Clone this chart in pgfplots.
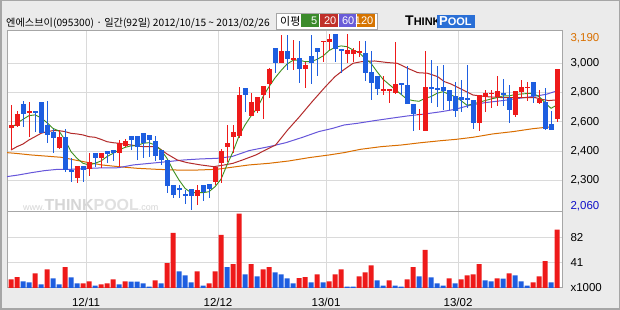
\documentclass[border=0pt]{standalone}
\usepackage{pgfplots}
\pgfplotsset{compat=1.18}
\usepackage{pgfplotstable}
\usepackage{fontspec}
\setmainfont{Liberation Sans}
\newfontfamily\kr{Noto Sans CJK KR}
\newfontfamily\num{Liberation Sans}

\definecolor{bgc}{HTML}{EBEBEB}
\definecolor{framec}{HTML}{A6A6A6}
\definecolor{gridc}{HTML}{DADADA}
\definecolor{upc}{HTML}{EE1A1A}
\definecolor{dnc}{HTML}{1E5EE0}
\definecolor{ma5c}{HTML}{3F8F1F}
\definecolor{ma20c}{HTML}{B32B2B}
\definecolor{ma60c}{HTML}{6656DA}
\definecolor{ma120c}{HTML}{D96E00}
\definecolor{lg5}{HTML}{3B8B2B}
\definecolor{lg20}{HTML}{C0302A}
\definecolor{lg60}{HTML}{6A5CD8}
\definecolor{lg120}{HTML}{D67400}
\definecolor{maxc}{HTML}{D97000}
\definecolor{minc}{HTML}{1010C8}
\definecolor{wmc}{HTML}{D6D6D6}
\definecolor{logob}{HTML}{2A6FD6}

% red (up) candles: index open high low close
\pgfplotstableread{
i o h l c
0 2555 2715 2407 2578
1 2571 2676 2562 2653
3 2658 2738 2498 2674
8 2419 2544 2412 2498
11 2213 2298 2179 2298
13 2275 2384 2232 2325
15 2355 2384 2282 2384
18 2389 2476 2289 2453
19 2437 2482 2425 2469
31 2095 2168 2031 2134
34 2191 2293 2168 2293
35 2321 2414 2179 2403
36 2430 2578 2327 2457
37 2498 2578 2384 2533
38 2503 2836 2487 2783
40 2640 2799 2640 2738
41 2674 2772 2663 2772
42 2783 2845 2619 2845
43 2859 2966 2761 2959
45 3000 3194 3000 3084
47 3027 3160 2954 3034
49 2959 3011 2834 2989
52 3146 3153 3011 3153
53 3148 3198 3091 3164
56 3062 3198 3000 3091
57 3062 3103 3007 3091
58 3073 3153 3046 3084
62 2813 2913 2781 2822
63 2816 2822 2726 2822
64 2795 3144 2790 2859
68 2647 2688 2544 2653
69 2539 3084 2539 2836
78 2594 2781 2539 2781
79 2772 2818 2669 2795
80 2792 2818 2697 2799
81 2772 2913 2708 2811
84 2647 2811 2631 2811
85 2804 2886 2761 2840
86 2833 2872 2745 2840
88 2731 2818 2720 2754
91 2619 2961 2601 2961
}\upT

% blue (down) candles
\pgfplotstableread{
i o h l c
2 2722 2742 2567 2653
4 2674 2674 2533 2665
5 2736 2736 2521 2521
6 2578 2742 2457 2510
7 2533 2549 2389 2492
9 2498 2549 2259 2270
10 2270 2350 2191 2259
12 2298 2298 2191 2270
14 2384 2384 2289 2355
16 2400 2400 2321 2380
17 2407 2407 2334 2389
20 2503 2503 2407 2476
21 2503 2503 2339 2430
22 2521 2521 2355 2453
23 2508 2508 2357 2476
24 2469 2503 2334 2366
25 2407 2407 2305 2339
26 2339 2339 2111 2163
27 2168 2168 2077 2100
28 2145 2168 2077 2136
29 2104 2134 2038 2096
30 2138 2138 1997 2095
32 2168 2168 2061 2122
33 2175 2175 2077 2138
39 2831 2831 2669 2783
44 3103 3103 2932 3000
46 3084 3194 2954 3032
48 3034 3153 2863 2959
50 3050 3194 2856 3000
51 3103 3103 2916 3078
54 3198 3198 3007 3096
55 3100 3100 2932 3087
59 3073 3153 2881 2936
60 2941 3084 2749 2863
61 2913 2913 2781 2822
65 2868 2868 2781 2850
66 2852 2982 2720 2720
67 2722 2722 2539 2651
70 2836 3023 2726 2827
71 2829 2982 2704 2821
72 2836 2989 2681 2813
73 2818 2818 2681 2745
74 2777 2870 2635 2676
75 2772 2886 2669 2749
76 2763 2989 2692 2749
77 2749 2749 2549 2594
82 2797 2893 2710 2783
83 2761 2852 2594 2681
87 2872 2872 2731 2777
89 2738 2829 2544 2553
90 2585 2676 2544 2544
}\dnT

% volume (x1000), red bars
\pgfplotstableread{
i v
0 13.9
1 17.7
4 23.7
6 30.3
9 33.6
12 7.5
13 10.6
15 5.7
16 7.3
17 13.9
19 10.6
24 12.2
26 40.1
27 89.4
31 27
33 7.3
34 27
35 86.1
37 38.5
38 120.5
40 38.5
42 30.3
43 33.6
48 16.1
49 17.7
51 22.1
53 10.6
54 22.1
55 30.3
58 18.8
59 25.4
60 36.8
63 12.2
66 13.9
67 33.6
69 61.5
73 15.5
75 13.9
76 20.4
77 22.1
78 38.5
81 15.5
83 23.7
87 9
88 18.8
89 43.4
91 94.3
}\volUp

% volume (x1000), blue bars
\pgfplotstableread{
i v
2 10.6
3 9
5 5.7
7 15.5
8 5.7
10 17.1
11 7.3
14 4
18 5.7
20 10.4
21 10.2
22 7.3
23 2.4
25 7.3
28 27
29 20.4
30 9
32 4
36 33.6
39 22.1
41 18.8
44 25.4
45 22.1
46 15.5
47 7.6
50 9
52 9
56 2.4
57 2.4
61 12.2
62 4
64 4
65 2.4
68 18.8
70 17.1
71 7.3
72 4
74 7.3
79 12.2
80 10.6
82 15.3
84 20.4
85 10.6
86 4
90 9
}\volDn

\begin{document}
\begin{tikzpicture}[x=1pt,y=1pt]
\fill[bgc] (0,0) rectangle (620,310);
\draw[framec, line width=1.5pt] (0.75,0.75) rectangle (619.25,309.25);
\fill[white] (7,22) rectangle (562,279);

% watermark
\node[anchor=base west, inner sep=0pt, text=wmc] at (23,99)
  {\fontsize{9}{9}\selectfont www.\fontsize{16}{16}\selectfont\bfseries THINK\textcolor{wmc!75!white}{POOL}\mdseries\fontsize{9}{9}\selectfont .com};

% title
\node[anchor=base west, inner sep=0pt] at (6,283)
  {\kr\fontsize{10.2}{10.2}\selectfont 엔에스브이(095300) · 일간(92일) 2012/10/15 \string~ 2013/02/26};

% MA legend box
\draw[framec, fill=white, line width=0.8pt] (276,281) rectangle (377,297);
\node[anchor=base west, inner sep=0pt] at (280,284.5) {\kr\fontsize{11}{11}\selectfont 이평};
\fill[lg5] (301,282.5) rectangle (319,295.5);
\fill[lg20] (320,282.5) rectangle (338,295.5);
\fill[lg60] (339,282.5) rectangle (356,295.5);
\fill[lg120] (357,282.5) rectangle (374.5,295.5);
\node[anchor=base east, inner sep=0pt, text=white] at (317.5,285) {\num\fontsize{11}{11}\selectfont 5};
\node[anchor=base east, inner sep=0pt, text=white] at (336.5,285) {\num\fontsize{11}{11}\selectfont 20};
\node[anchor=base east, inner sep=0pt, text=white] at (354.5,285) {\num\fontsize{11}{11}\selectfont 60};
\node[anchor=base east, inner sep=0pt, text=white] at (373.5,285) {\num\fontsize{11}{11}\selectfont 120};

% logo
\node[anchor=base west, inner sep=0pt] at (405,284)
  {\num\bfseries\fontsize{14}{14}\selectfont T\fontsize{11}{11}\selectfont HINK};
\fill[logob] (437,282) rectangle (475,295);
\node[anchor=base west, inner sep=0pt, text=white] at (439,284)
  {\num\bfseries\fontsize{13}{13}\selectfont P\fontsize{11}{11}\selectfont OOL};

% ---------------- price panel ----------------
\begin{axis}[
  at={(7pt,98pt)}, anchor=south west,
  scale only axis, width=555pt, height=181pt,
  xmin=-0.667, xmax=91.833, ymin=1983, ymax=3221,
  axis line style={draw=framec, line width=1pt},
  xtick={12.5,34.5,52.5,74.5}, xticklabels={},
  ytick={2200,2400,2600,2800,3000},
  yticklabels={{2,300},{2,400},{2,600},{2,800},{3,000}},
  yticklabel pos=right,
  ymajorgrids, xmajorgrids,
  major grid style={draw=gridc, line width=1pt},
  major tick length=0pt,
  tick style={draw=none},
  tick label style={font=\num\fontsize{11.5}{12}\selectfont},
  yticklabel style={anchor=west, xshift=5pt},
  extra y ticks={3171,2020},
  extra y tick labels={{\color{maxc}3,190},{\color{minc}2,060}},
  extra y tick style={grid=none},
]
% moving averages
\addplot[ma120c, line width=1pt] coordinates {
(-0.67,2389)(0.8,2384)(3.4,2373)(5.6,2366)(8.4,2357)(10.6,2339)(12.9,2321)(15.1,2305)(17.9,2293)(21,2282)(24.3,2275)(27.7,2270)(31,2270)(34.3,2275)(36.8,2289)(39.7,2305)(43,2316)(46.3,2332)(49.7,2355)(53,2373)(55.5,2389)(58.3,2412)(61.7,2430)(65,2441)(68.3,2457)(71.7,2471)(74.2,2480)(77,2494)(80.3,2517)(83.7,2533)(87,2553)(90.3,2567)};
\addplot[ma60c, line width=1pt] coordinates {
(-0.67,2225)(1.2,2236)(3.4,2252)(5.6,2266)(7.8,2275)(10,2275)(12.3,2280)(14.6,2284)(16.8,2284)(17.9,2286)(20.4,2305)(23.2,2316)(26,2327)(28.8,2339)(31.6,2346)(34.3,2350)(36.8,2362)(39.7,2403)(43,2430)(45.8,2457)(48.6,2494)(51.3,2533)(53.6,2555)(55.5,2578)(57.8,2590)(60.6,2608)(63.3,2624)(66.1,2640)(68.9,2653)(71.7,2669)(74,2685)(76.4,2712)(79,2731)(81.9,2745)(84.8,2761)(87.6,2777)(89.2,2788)(90.6,2806)(91,2811)};
\addplot[ma20c, line width=1pt] coordinates {
(0,2407)(1,2430)(2,2448)(3,2476)(4,2498)(5,2521)(6,2533)(7,2539)(8,2539)(9,2533)(10,2521)(11,2517)(12,2510)(13,2498)(14,2494)(15,2480)(16,2464)(17,2457)(18,2453)(20,2441)(22,2430)(24.3,2430)(26,2380)(27.7,2339)(29.3,2321)(31.6,2305)(33.8,2293)(35.6,2305)(37,2316)(38.6,2339)(40.8,2373)(42.4,2407)(44.1,2441)(46.1,2544)(48,2631)(50.2,2738)(52.4,2840)(54,2909)(55.4,2954)(57,3000)(58.4,3011)(60.6,3016)(62.8,3005)(64.4,3000)(66.1,2966)(67.8,2936)(69.4,2932)(71.1,2909)(72.2,2875)(73.3,2859)(75.3,2818)(77,2783)(79.2,2772)(82,2765)(84.8,2765)(87.4,2765)(88.5,2754)(89.6,2745)(90.7,2749)(91,2749)};
\addplot[ma5c, line width=0.9pt] coordinates {
(0,2555)(1,2590)(2,2617)(3,2642)(4,2647)(5,2628)(6,2594)(7,2555)(8,2537)(9,2476)(10,2396)(11,2350)(12,2316)(13,2305)(14,2316)(15,2332)(16,2362)(17,2384)(18,2407)(19,2425)(20,2435)(21,2437)(22,2453)(23,2457)(24,2441)(25,2407)(26,2350)(27,2270)(28,2202)(29,2145)(30,2115)(31,2115)(32,2115)(33,2122)(34,2156)(35,2207)(36,2305)(37,2396)(38,2503)(39,2578)(40,2640)(41,2692)(42,2772)(43,2840)(44,2900)(45,2950)(46,2995)(47,3020)(48,3023)(49,3011)(50,3011)(51,3027)(52,3050)(53,3087)(54,3109)(55,3119)(56,3114)(57,3091)(58,3073)(59,3034)(60,3000)(61,2943)(62,2891)(63,2856)(64,2822)(65,2788)(66,2754)(67,2745)(68,2740)(69,2761)(70,2772)(71,2795)(72,2806)(73,2788)(74,2772)(75,2745)(76,2713)(77,2722)(78,2733)(79,2745)(80,2756)(81,2765)(82,2777)(83,2777)(84,2786)(85,2790)(86,2793)(87,2795)(88,2772)(89,2731)(90,2692)(91,2715)};
% wicks
\addplot[draw=none, mark=none, error bars/.cd, y dir=both, y explicit, error mark=none,
  error bar style={draw=upc, line width=1pt}]
  table[x=i, y expr={(\thisrow{h}+\thisrow{l})/2}, y error expr={(\thisrow{h}-\thisrow{l})/2}] {\upT};
\addplot[draw=none, mark=none, error bars/.cd, y dir=both, y explicit, error mark=none,
  error bar style={draw=dnc, line width=1pt}]
  table[x=i, y expr={(\thisrow{h}+\thisrow{l})/2}, y error expr={(\thisrow{h}-\thisrow{l})/2}] {\dnT};
% bodies
\addplot[draw=none, mark=none, error bars/.cd, y dir=both, y explicit, error mark=none,
  error bar style={draw=upc, line width=5pt}]
  table[x=i, y expr={(\thisrow{o}+\thisrow{c})/2}, y error expr={max(abs(\thisrow{o}-\thisrow{c})/2,3.5)}] {\upT};
\addplot[draw=none, mark=none, error bars/.cd, y dir=both, y explicit, error mark=none,
  error bar style={draw=dnc, line width=5pt}]
  table[x=i, y expr={(\thisrow{o}+\thisrow{c})/2}, y error expr={max(abs(\thisrow{o}-\thisrow{c})/2,3.5)}] {\dnT};
\end{axis}

% ---------------- volume panel ----------------
\begin{axis}[
  at={(7pt,22pt)}, anchor=south west,
  scale only axis, width=555pt, height=76pt,
  xmin=-0.667, xmax=91.833, ymin=0, ymax=123,
  axis line style={draw=framec, line width=1pt},
  xtick={12.5,34.5,52.5,74.5}, xticklabels={12/11,12/12,13/01,13/02},
  ytick={0,41,82}, yticklabels={x1000,41,82},
  yticklabel pos=right,
  ymajorgrids, xmajorgrids,
  major grid style={draw=gridc, line width=1pt},
  major tick length=0pt,
  tick style={draw=none},
  tick label style={font=\num\fontsize{11.5}{12}\selectfont},
  yticklabel style={anchor=west, xshift=5pt},
  xticklabel style={yshift=-6.5pt},
]
\addplot[ybar, bar width=5pt, bar shift=0pt, fill=upc, draw=none] table[x=i, y=v] {\volUp};
\addplot[ybar, bar width=5pt, bar shift=0pt, fill=dnc, draw=none] table[x=i, y=v] {\volDn};
\end{axis}

\pgfresetboundingbox
\path[use as bounding box] (0,0) rectangle (620,310);
\end{tikzpicture}
\end{document}
